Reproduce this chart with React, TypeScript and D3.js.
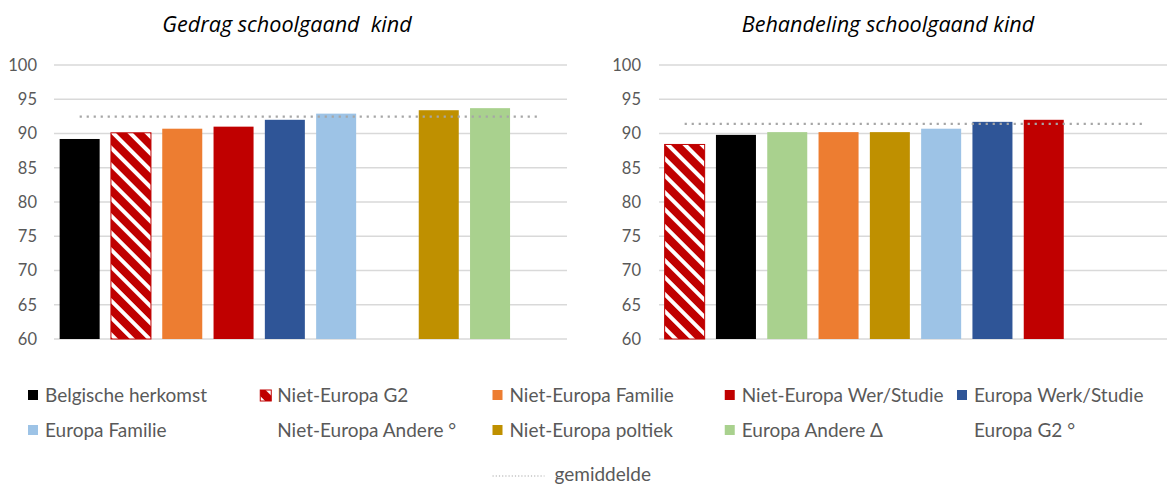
import * as d3 from "d3";

// series in legend order
const seriesNames = [
  "Belgische herkomst",
  "Niet-Europa G2",
  "Niet-Europa Familie",
  "Niet-Europa Wer/Studie",
  "Europa Werk/Studie",
  "Europa Familie",
  "Niet-Europa Andere °",
  "Niet-Europa poltiek",
  "Europa Andere Δ",
  "Europa G2 °",
];

// left panel: Gedrag schoolgaand kind
const gedragCategories = [
  "Belgische herkomst",
  "Niet-Europa G2",
  "Niet-Europa Familie",
  "Niet-Europa Wer/Studie",
  "Europa Werk/Studie",
  "Europa Familie",
  "Niet-Europa Andere °",
  "Niet-Europa poltiek",
  "Europa Andere Δ",
  "Europa G2 °",
];
const gedragValues = [89.2, 90.1, 90.7, 91.0, 92.0, 92.9, null, 93.4, 93.7, null];
const gedragMean = 92.45;

// right panel: Behandeling schoolgaand kind
const behandelingCategories = [
  "Niet-Europa G2",
  "Belgische herkomst",
  "Europa Andere Δ",
  "Niet-Europa Familie",
  "Niet-Europa poltiek",
  "Europa Familie",
  "Europa Werk/Studie",
  "Niet-Europa Wer/Studie",
  "Niet-Europa Andere °",
  "Europa G2 °",
];
const behandelingValues = [88.4, 89.8, 90.2, 90.2, 90.2, 90.7, 91.7, 92.0, null, null];
const behandelingMean = 91.4;

const yDomain: [number, number] = [60, 100];
const meanLabel = "gemiddelde";

const colorOf: Record<string, string | null> = {
  "Belgische herkomst": "#000000",
  "Niet-Europa G2": "url(#hatch)",
  "Niet-Europa Familie": "#ED7D31",
  "Niet-Europa Wer/Studie": "#C00000",
  "Europa Werk/Studie": "#2F5597",
  "Europa Familie": "#9DC3E6",
  "Niet-Europa Andere °": null,
  "Niet-Europa poltiek": "#BF9000",
  "Europa Andere Δ": "#A9D18E",
  "Europa G2 °": null,
};

const FONT = "Lato, 'Liberation Sans', sans-serif";
const TEXT = "#595959";
const GRID = "#D9D9D9";
const MEAN = "#A6A6A6";

const W = 1167;
const H = 486;

const y = d3.scaleLinear().domain(yDomain).range([339, 65]);

type PanelProps = {
  title: string;
  titleX: number;
  categories: string[];
  values: (number | null)[];
  mean: number;
  range: [number, number];
  tickX: number;
};

function Panel({ title, titleX, categories, values, mean, range, tickX }: PanelProps) {
  const x = d3
    .scaleBand<string>()
    .domain(categories)
    .range(range)
    .paddingInner(0.22)
    .paddingOuter(0.11);
  const bw = x.bandwidth();
  const first = (x(categories[0]) ?? 0) + bw / 2;
  const last = (x(categories[categories.length - 1]) ?? 0) + bw / 2;

  return (
    <g>
      <text
        x={titleX}
        y={32}
        textAnchor="middle"
        fontStyle="italic"
        fontSize={21.6}
        fontFamily="'Open Sans', sans-serif"
        fill="#000"
        style={{ whiteSpace: "pre" }}
      >
        {title}
      </text>
      {y.ticks(8).map((t) => (
        <g key={t}>
          <line x1={range[0]} x2={range[1]} y1={y(t)} y2={y(t)} stroke={GRID} strokeWidth={1.5} />
          <text x={tickX} y={y(t)} dy="0.35em" textAnchor="end" fontSize={16.5} fill={TEXT}>
            {t}
          </text>
        </g>
      ))}
      {categories.map((c, i) => {
        const v = values[i];
        if (v == null) return null;
        const hatched = c === "Niet-Europa G2";
        return (
          <rect
            key={c}
            x={x(c)}
            y={y(v)}
            width={bw}
            height={y(yDomain[0]) - y(v)}
            fill={colorOf[c] ?? "none"}
            stroke={hatched ? "#C00000" : "none"}
            strokeWidth={hatched ? 1 : 0}
          />
        );
      })}
      <line
        x1={first}
        x2={last}
        y1={y(mean)}
        y2={y(mean)}
        stroke={MEAN}
        strokeWidth={2.2}
        strokeDasharray="2.2 4.8"
      />
    </g>
  );
}

function Legend() {
  const col = d3.scaleLinear().domain([0, 4]).range([28, 957]);
  const rowY = [395, 430];
  return (
    <g fontSize={19} fill={TEXT}>
      {seriesNames.map((name, i) => {
        const cx = col(i % 5);
        const cy = rowY[Math.floor(i / 5)];
        const fill = colorOf[name];
        const hatched = name === "Niet-Europa G2";
        return (
          <g key={name}>
            {fill && (
              <rect
                x={cx}
                y={cy - 5}
                width={hatched ? 11 : 10}
                height={hatched ? 11 : 10}
                fill={fill}
                stroke={hatched ? "#C00000" : "none"}
              />
            )}
            <text x={cx + 17} y={cy} dy="0.35em">
              {name}
            </text>
          </g>
        );
      })}
      <line
        x1={col(2)}
        x2={col(2) + 52}
        y1={476}
        y2={476}
        stroke={MEAN}
        strokeWidth={1.2}
        strokeDasharray="1.2 2"
      />
      <text x={col(2) + 62} y={474} dy="0.35em">
        {meanLabel}
      </text>
    </g>
  );
}

export default function App() {
  return (
    <svg
      width={W}
      height={H}
      viewBox={`0 0 ${W} ${H}`}
      fontFamily={FONT}
      style={{ position: "absolute", left: 0, top: 0, background: "#fff" }}
    >
      <defs>
        <pattern
          id="hatch"
          patternUnits="userSpaceOnUse"
          width={12}
          height={12}
          patternTransform="rotate(45)"
        >
          <rect width={12} height={12} fill="#C00000" />
          <rect width={12} height={4} fill="#fff" />
        </pattern>
      </defs>
      <rect width={W} height={H} fill="#fff" />
      <Panel
        title="Gedrag schoolgaand  kind"
        titleX={287}
        categories={gedragCategories}
        values={gedragValues}
        mean={gedragMean}
        range={[54, 567]}
        tickX={37}
      />
      <Panel
        title="Behandeling schoolgaand kind"
        titleX={888}
        categories={behandelingCategories}
        values={behandelingValues}
        mean={behandelingMean}
        range={[659, 1172]}
        tickX={641}
      />
      <Legend />
    </svg>
  );
}
